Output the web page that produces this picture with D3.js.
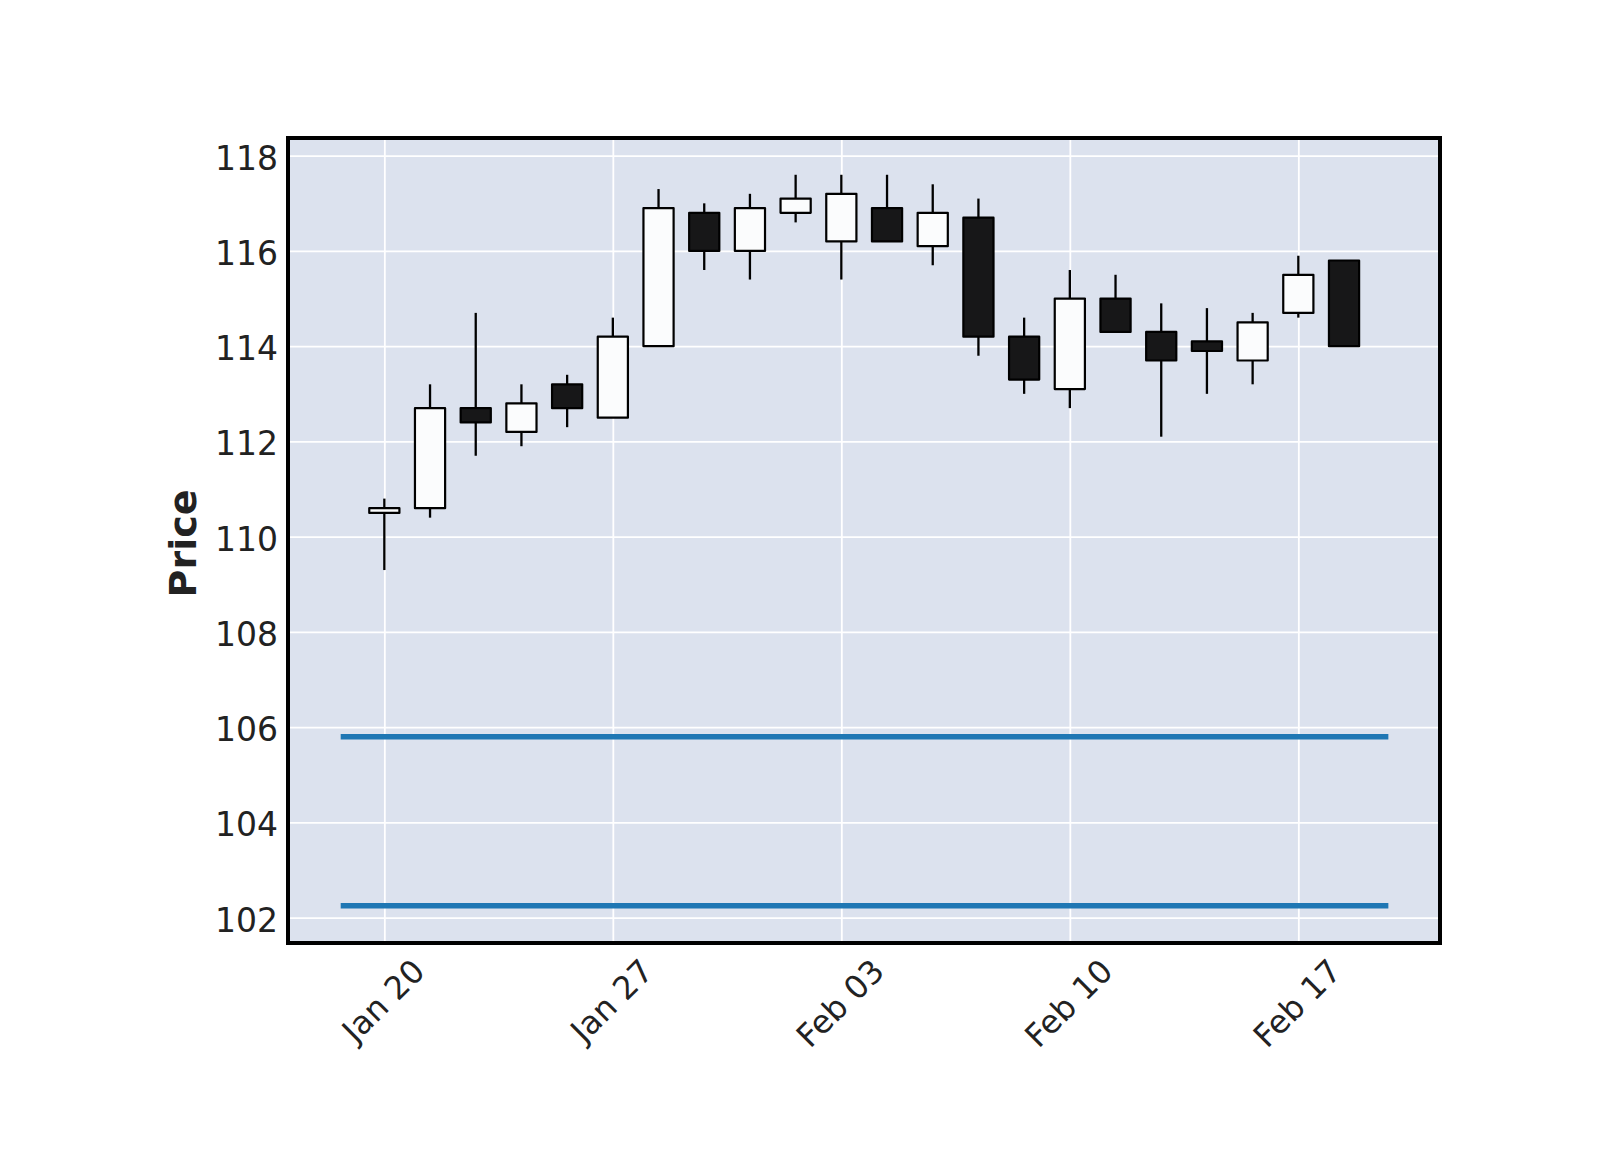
<!DOCTYPE html>
<html>
<head>
<meta charset="utf-8">
<script src="https://cdn.jsdelivr.net/npm/d3@7"></script>
<style>
  html, body { margin: 0; padding: 0; background: #ffffff; }
  svg { display: block; }
  text { font-family: "DejaVu Sans", sans-serif; fill: #222222; }
</style>
</head>
<body>
<svg id="chart" width="1600" height="1150"></svg>
<script>
// ---------------- data ----------------
const dates = ["2025-01-20","2025-01-21","2025-01-22","2025-01-23","2025-01-24",
               "2025-01-27","2025-01-28","2025-01-29","2025-01-30","2025-01-31",
               "2025-02-03","2025-02-04","2025-02-05","2025-02-06","2025-02-07",
               "2025-02-10","2025-02-11","2025-02-12","2025-02-13","2025-02-14",
               "2025-02-17","2025-02-18"];
const openVals  = [110.5,110.6,112.7,112.2,113.2,112.5,114.0,116.8,116.0,116.8,116.2,116.9,116.1,116.7,114.2,113.1,115.0,114.3,114.1,113.7,114.7,115.8];
const highVals  = [110.8,113.2,114.7,113.2,113.4,114.6,117.3,117.0,117.2,117.6,117.6,117.6,117.4,117.1,114.6,115.6,115.5,114.9,114.8,114.7,115.9,115.8];
const lowVals   = [109.3,110.4,111.7,111.9,112.3,112.5,114.0,115.6,115.4,116.6,115.4,116.2,115.7,113.8,113.0,112.7,114.3,112.1,113.0,113.2,114.6,114.0];
const closeVals = [110.6,112.7,112.4,112.8,112.7,114.2,116.9,116.0,116.9,117.1,117.2,116.2,116.8,114.2,113.3,115.0,114.3,113.7,113.9,114.5,115.5,114.0];
const hlineVals = [105.8, 102.25];
const xTickIndex  = [0, 5, 10, 15, 20];
const xTickLabels = ["Jan 20", "Jan 27", "Feb 03", "Feb 10", "Feb 17"];
const yTicks = [102, 104, 106, 108, 110, 112, 114, 116, 118];
const yLabel = "Price";

// ---------------- layout ----------------
const plot = { left: 288, right: 1440, top: 138, bottom: 943 };
const colors = {
  bg: "#dce2ee", grid: "#ffffff", up: "#fbfcfd", down: "#171718",
  edge: "#000000", hline: "#1f77b4", frame: "#000000"
};

const svg = d3.select("#chart");
const n = dates.length;
const candles = dates.map((d, i) => ({
  i, date: d, o: openVals[i], h: highVals[i], l: lowVals[i], c: closeVals[i]
}));

const x = d3.scaleLinear().domain([-2.108, 23.1]).range([plot.left, plot.right]);
const y = d3.scaleLinear().domain([101.469, 118.372]).range([plot.bottom, plot.top]);

// background
svg.append("rect")
  .attr("x", plot.left).attr("y", plot.top)
  .attr("width", plot.right - plot.left).attr("height", plot.bottom - plot.top)
  .attr("fill", colors.bg);

// grid via axes
const gGridY = svg.append("g")
  .attr("transform", `translate(${plot.left},0)`)
  .call(d3.axisLeft(y).tickValues(yTicks).tickSize(-(plot.right - plot.left)).tickFormat(""));
gGridY.select(".domain").remove();
gGridY.selectAll("line").attr("stroke", colors.grid).attr("stroke-width", 1.8);

const gGridX = svg.append("g")
  .attr("transform", `translate(0,${plot.bottom})`)
  .call(d3.axisBottom(x).tickValues(xTickIndex).tickSize(-(plot.bottom - plot.top)).tickFormat(""));
gGridX.select(".domain").remove();
gGridX.selectAll("line").attr("stroke", colors.grid).attr("stroke-width", 1.8);

// horizontal lines
svg.append("g").selectAll("line")
  .data(hlineVals).join("line")
  .attr("x1", x(-0.955)).attr("x2", x(n - 1 + 0.97))
  .attr("y1", d => y(d)).attr("y2", d => y(d))
  .attr("stroke", colors.hline).attr("stroke-width", 5.5);

// candles
const half = 0.33;
const gC = svg.append("g");
const cg = gC.selectAll("g.candle").data(candles).join("g").attr("class", "candle");
cg.append("line")
  .attr("x1", d => x(d.i)).attr("x2", d => x(d.i))
  .attr("y1", d => y(d.h)).attr("y2", d => y(Math.max(d.o, d.c)))
  .attr("stroke", colors.edge).attr("stroke-width", 2.3);
cg.append("line")
  .attr("x1", d => x(d.i)).attr("x2", d => x(d.i))
  .attr("y1", d => y(Math.min(d.o, d.c))).attr("y2", d => y(d.l))
  .attr("stroke", colors.edge).attr("stroke-width", 2.3);
cg.append("rect")
  .attr("x", d => x(d.i - half))
  .attr("width", d => x(d.i + half) - x(d.i - half))
  .attr("y", d => y(Math.max(d.o, d.c)))
  .attr("height", d => Math.max(0.5, y(Math.min(d.o, d.c)) - y(Math.max(d.o, d.c))))
  .attr("fill", d => d.c >= d.o ? colors.up : colors.down)
  .attr("stroke", colors.edge).attr("stroke-width", 2.2)
  .attr("stroke-linejoin", "round");

// frame
svg.append("rect")
  .attr("x", plot.left).attr("y", plot.top)
  .attr("width", plot.right - plot.left).attr("height", plot.bottom - plot.top)
  .attr("fill", "none").attr("stroke", colors.frame).attr("stroke-width", 4);

// y tick labels
svg.append("g").selectAll("text")
  .data(yTicks).join("text")
  .attr("x", 278).attr("y", d => y(d) + 2.5)
  .attr("text-anchor", "end").attr("dominant-baseline", "central")
  .style("font-size", "33px")
  .text(d => d);

// x tick labels rotated 45deg, bbox centered on tick, top at fixed offset
const xl = svg.append("g").selectAll("text")
  .data(xTickIndex).join("text")
  .attr("text-anchor", "middle").attr("dominant-baseline", "central")
  .style("font-size", "32px")
  .text((d, k) => xTickLabels[k]);
xl.each(function(d) {
  const t = d3.select(this);
  const w = this.getComputedTextLength();
  const h = 32 * 1.0;
  const halfBox = (w + h) * Math.SQRT1_2 / 2;
  const cx = x(d) - 1;
  const cy = 954 + halfBox;
  t.attr("x", cx).attr("y", cy)
   .attr("transform", `rotate(-45 ${cx} ${cy})`);
});

// y axis label
svg.append("text")
  .attr("transform", `translate(196,${(plot.top + plot.bottom) / 2 + 3}) rotate(-90)`)
  .attr("text-anchor", "middle")
  .style("font-size", "38px").style("font-weight", "bold")
  .text(yLabel);
</script>
</body>
</html>
